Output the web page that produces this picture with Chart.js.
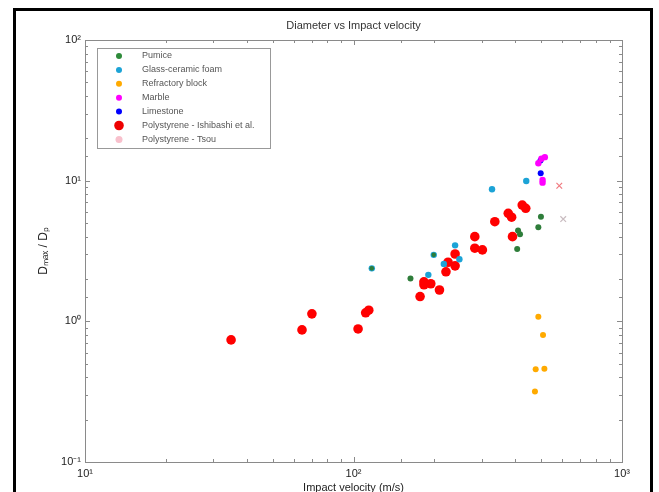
<!DOCTYPE html>
<html>
<head>
<meta charset="utf-8">
<title>Diameter vs Impact velocity</title>
<script src="https://cdn.jsdelivr.net/npm/chart.js@4.4.1/dist/chart.umd.min.js"></script>
<style>
  body { margin: 0; background: #fff; }
  canvas { display: block; }
</style>
</head>
<body>
<canvas id="grafico" width="659" height="492"></canvas>
<script>
// impact velocity (m/s) and Dmax/Dp
const pumiceV = [163, 410, 417, 407, 499, 488, 117, 199];
const pumiceD = [2.02, 4.42, 4.16, 3.27, 5.55, 4.67, 2.38, 2.97];

const glassV = [117, 190, 199, 217, 239, 248, 328, 440];
const glassD = [2.38, 2.14, 2.97, 2.56, 3.47, 2.76, 8.69, 9.95];

const refractV = [488, 508, 477, 514, 474];
const refractD = [1.08, 0.80, 0.457, 0.461, 0.317];

const marbleV = [488, 501, 516, 506, 506];
const marbleD = [13.3, 14.3, 14.7, 10.1, 9.68];

const limeV = [498, 497];
const limeD = [11.3, 13.9];

const ishibashiV = [35.0, 64.3, 70.0, 104, 111, 114, 177, 183, 183, 194, 209, 221,
  225, 239, 239, 283, 283, 302, 336, 377, 388, 391, 425, 438];
const ishibashiD = [0.738, 0.869, 1.13, 0.883, 1.15, 1.20, 1.50, 1.91, 1.82, 1.85, 1.67, 2.25,
  2.63, 3.01, 2.48, 4.0, 3.31, 3.22, 5.11, 5.86, 5.5, 4.0, 6.71, 6.36];

const tsouV = [584, 604];
const tsouD = [9.2, 5.33];

const tickText = { 0.1: '10⁻¹', 1: '10⁰', 10: '10¹', 100: '10²', 1000: '10³' };

const pts = (xs, ys) => xs.map((x, i) => ({ x, y: ys[i] }));

Chart.defaults.font.family = '"Liberation Sans", Arial, sans-serif';
Chart.defaults.color = '#222';

const isMajor = v => Math.abs(Math.log10(v) - Math.round(Math.log10(v))) < 1e-6;

// black frame, plot box, inward ticks and title
const caixa = {
  id: 'caixa',
  beforeDatasetsDraw(chart) {
    const ctx = chart.ctx;
    const a = chart.chartArea;
    ctx.save();
    ctx.strokeStyle = '#000';
    ctx.lineWidth = 3;
    ctx.beginPath();
    ctx.moveTo(14.5, 500);
    ctx.lineTo(14.5, 9.5);
    ctx.lineTo(651.5, 9.5);
    ctx.lineTo(651.5, 500);
    ctx.stroke();

    ctx.strokeStyle = '#8a8a8a';
    ctx.lineWidth = 1;
    ctx.strokeRect(Math.round(a.left) + 0.5, Math.round(a.top) + 0.5,
      Math.round(a.right - a.left), Math.round(a.bottom - a.top));

    ctx.beginPath();
    const sx = chart.scales.x;
    sx.ticks.forEach(t => {
      const p = Math.round(sx.getPixelForValue(t.value)) + 0.5;
      const len = isMajor(t.value) ? 5 : 3;
      ctx.moveTo(p, a.bottom); ctx.lineTo(p, a.bottom - len);
      ctx.moveTo(p, a.top); ctx.lineTo(p, a.top + len);
    });
    const sy = chart.scales.y;
    sy.ticks.forEach(t => {
      const p = Math.round(sy.getPixelForValue(t.value)) + 0.5;
      const len = isMajor(t.value) ? 5 : 3;
      ctx.moveTo(a.left, p); ctx.lineTo(a.left + len, p);
      ctx.moveTo(a.right, p); ctx.lineTo(a.right - len, p);
    });
    ctx.stroke();

    ctx.fillStyle = '#333';
    ctx.font = '11px "Liberation Sans", Arial, sans-serif';
    ctx.textAlign = 'center';
    ctx.textBaseline = 'middle';
    ctx.fillText('Diameter vs Impact velocity', (a.left + a.right) / 2, 26);
    ctx.restore();
  }
};

// legend box in the upper left corner
const legenda = {
  id: 'legenda',
  afterDraw(chart) {
    const ctx = chart.ctx;
    ctx.save();
    ctx.fillStyle = '#fff';
    ctx.fillRect(97.5, 48.5, 173, 100);
    ctx.strokeStyle = '#999';
    ctx.lineWidth = 1;
    ctx.strokeRect(97.5, 48.5, 173, 100);
    ctx.font = '9px "Liberation Sans", Arial, sans-serif';
    ctx.textBaseline = 'middle';
    chart.data.datasets.forEach((ds, i) => {
      const y = 56 + i * 13.9;
      const r = ds.legendRadius;
      ctx.fillStyle = ds.legendColor;
      ctx.beginPath();
      ctx.arc(119, y, r, 0, Math.PI * 2);
      ctx.fill();
      ctx.fillStyle = '#555';
      ctx.fillText(ds.label, 142, y);
    });
    ctx.restore();
  }
};

new Chart(document.getElementById('grafico'), {
  type: 'scatter',
  data: {
    datasets: [
      {
        label: 'Pumice',
        data: pts(pumiceV, pumiceD),
        pointBackgroundColor: '#2e7d3a',
        pointBorderWidth: 0,
        pointRadius: [3, 3, 3, 3, 3, 3, 2.3, 2.3],
        legendColor: '#2e8b3a', legendRadius: 3
      },
      {
        label: 'Glass-ceramic foam',
        data: pts(glassV, glassD),
        pointBackgroundColor: '#1ca3d6',
        pointBorderWidth: 0,
        pointRadius: 3.2,
        legendColor: '#1ca3d6', legendRadius: 3
      },
      {
        label: 'Refractory block',
        data: pts(refractV, refractD),
        pointBackgroundColor: '#ffaa00',
        pointBorderWidth: 0,
        pointRadius: 3,
        legendColor: '#ffaa00', legendRadius: 3
      },
      {
        label: 'Marble',
        data: pts(marbleV, marbleD),
        pointBackgroundColor: '#ff00ff',
        pointBorderWidth: 0,
        pointRadius: 3.2,
        legendColor: '#ff00ff', legendRadius: 3
      },
      {
        label: 'Limestone',
        data: pts(limeV, limeD),
        pointBackgroundColor: '#0000ff',
        pointBorderWidth: 0,
        pointRadius: 3,
        legendColor: '#0000ff', legendRadius: 3
      },
      {
        label: 'Polystyrene - Ishibashi et al.',
        data: pts(ishibashiV, ishibashiD),
        pointBackgroundColor: '#ff0000',
        pointBorderWidth: 0,
        pointRadius: 4.8,
        legendColor: '#ee0000', legendRadius: 4.8
      },
      {
        label: 'Polystyrene - Tsou',
        data: pts(tsouV, tsouD),
        pointStyle: 'crossRot',
        pointBorderColor: ['#f07a80', '#c9bcc0'],
        pointBorderWidth: 1.2,
        pointRadius: 4,
        legendColor: '#f8c0cc', legendRadius: 3.5
      }
    ]
  },
  options: {
    responsive: false,
    animation: false,
    layout: { padding: { top: 40, right: 37, left: 32, bottom: 0 } },
    plugins: {
      legend: { display: false },
      tooltip: { enabled: false }
    },
    scales: {
      x: {
        type: 'logarithmic',
        min: 10,
        max: 1000,
        grid: { display: false, drawTicks: false },
        border: { display: false },
        ticks: {
          autoSkip: false,
          maxRotation: 0,
          padding: 5,
          font: { size: 11 },
          color: '#222',
          callback: v => tickText[v] || ''
        },
        title: {
          display: true,
          text: 'Impact velocity (m/s)',
          font: { size: 11 },
          color: '#222',
          padding: { top: 0, bottom: -3 }
        },
        afterFit: s => { s.height = 30; }
      },
      y: {
        type: 'logarithmic',
        min: 0.1,
        max: 100,
        grid: { display: false, drawTicks: false },
        border: { display: false },
        ticks: {
          autoSkip: false,
          padding: 4,
          font: { size: 11 },
          color: '#222',
          callback: v => tickText[v] || ''
        },
        title: {
          display: true,
          text: 'Dₘₐₓ / Dₚ',
          font: { size: 12 },
          color: '#222',
          padding: { top: 4, bottom: 4 }
        },
        afterFit: s => { s.width = 53; }
      }
    }
  },
  plugins: [caixa, legenda]
});
</script>
</body>
</html>
